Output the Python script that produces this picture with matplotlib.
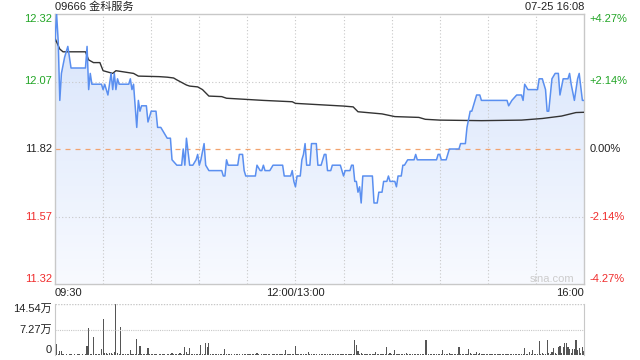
import numpy as np
import matplotlib.pyplot as plt
from matplotlib.colors import LinearSegmentedColormap
from matplotlib.patches import Polygon

plt.rcParams['font.family'] = ['Liberation Sans', 'Noto Sans CJK SC', 'DejaVu Sans']

title = '09666 金科服务'
stamp = '07-25 16:08'
prev_close = 11.82
price_ticks = [12.32, 12.07, 11.82, 11.57, 11.32]
pct_labels = ['+4.27%', '+2.14%', '0.00%', '-2.14%', '-4.27%']
time_ticks = [0, 150, 330]
time_labels = ['09:30', '12:00/13:00', '16:00']
vol_ticks = [0, 72700, 145400]
vol_labels = ['0', '7.27万', '14.54万']

# minutes after 09:30 (lunch break removed) and last price
price_min = [0, 1, 2, 3, 4, 6, 8, 10, 19, 20, 21, 22, 23, 29, 30, 31, 33, 35, 36, 37,
             38, 39, 40, 46, 47, 48, 49, 51, 52, 53, 54, 57, 58, 60, 63, 64, 66, 68, 70, 72,
             73, 76, 79, 80, 81, 82, 84, 86, 88, 89, 90, 91, 93, 94, 96, 104, 105, 106, 107, 108,
             114, 115, 117, 118, 119, 125, 126, 128, 129, 130, 131, 134, 136, 142, 143, 147, 148, 149, 150, 151,
             153, 154, 155, 156, 157, 159, 160, 163, 164, 166, 168, 169, 170, 172, 173, 178, 180, 181, 184, 185,
             186, 187, 188, 189, 190, 191, 192, 198, 199, 201, 202, 204, 205, 207, 208, 209, 212, 213, 214, 216,
             217, 218, 220, 224, 225, 226, 238, 239, 240, 241, 244, 246, 252, 253, 256, 257, 259, 260, 263, 265,
             266, 282, 283, 285, 288, 291, 292, 293, 295, 301, 302, 304, 306, 307, 308, 309, 310, 312, 314, 315,
             317, 320, 321, 322, 324, 326, 327, 329, 330]
price = [12.22, 12.32, 12.22, 12.00, 12.10, 12.16, 12.20, 12.12, 12.12, 12.20, 12.04, 12.10, 12.06, 12.06, 12.04, 12.06, 12.02, 12.10, 12.04, 12.10,
         12.04, 12.08, 12.06, 12.06, 12.08, 12.04, 12.06, 11.90, 12.00, 11.96, 11.98, 11.98, 11.92, 11.96, 11.96, 11.90, 11.90, 11.88, 11.86, 11.86,
         11.78, 11.76, 11.76, 11.82, 11.76, 11.86, 11.76, 11.76, 11.78, 11.80, 11.76, 11.78, 11.84, 11.76, 11.74, 11.74, 11.72, 11.72, 11.78, 11.76,
         11.76, 11.80, 11.80, 11.74, 11.72, 11.72, 11.76, 11.74, 11.74, 11.76, 11.74, 11.74, 11.76, 11.76, 11.72, 11.72, 11.74, 11.70, 11.68, 11.72,
         11.72, 11.78, 11.80, 11.84, 11.76, 11.76, 11.84, 11.84, 11.76, 11.76, 11.80, 11.80, 11.74, 11.74, 11.76, 11.76, 11.72, 11.74, 11.74, 11.76,
         11.76, 11.70, 11.70, 11.66, 11.68, 11.62, 11.72, 11.72, 11.62, 11.62, 11.66, 11.66, 11.70, 11.70, 11.72, 11.70, 11.70, 11.68, 11.72, 11.72,
         11.76, 11.76, 11.78, 11.78, 11.80, 11.78, 11.78, 11.80, 11.80, 11.78, 11.78, 11.82, 11.82, 11.84, 11.84, 11.90, 11.96, 11.96, 12.02, 12.02,
         12.00, 12.00, 11.98, 12.00, 12.02, 12.02, 12.00, 12.06, 12.04, 12.04, 12.08, 12.08, 12.04, 11.96, 11.96, 12.02, 12.08, 12.10, 12.10, 12.02,
         12.08, 12.08, 12.10, 12.06, 12.00, 12.08, 12.10, 12.00, 12.00]

# average price line
avg_min = [0, 3, 5, 19, 21, 24, 28, 30, 36, 38, 49, 52, 65, 70, 74, 76, 82, 84, 89, 92,
           96, 104, 107, 130, 148, 150, 180, 186, 189, 204, 212, 227, 231, 240, 266, 291, 304, 316, 325, 330]
avg_price = [12.23, 12.19, 12.18, 12.18, 12.15, 12.14, 12.14, 12.11, 12.10, 12.11, 12.10, 12.09, 12.088, 12.086, 12.083, 12.076, 12.057, 12.053, 12.05, 12.04,
             12.016, 12.014, 12.008, 12.00, 11.995, 11.989, 11.979, 11.976, 11.958, 11.95, 11.94, 11.937, 11.93, 11.927, 11.925, 11.927, 11.933, 11.942, 11.955, 11.956]

# volume per minute, thousand shares
volume = [
    14, 32, 3, 12, 12, 2, 1, 2, 1, 2, 2, 1, 2, 1, 2, 2, 1, 2, 1, 2, 26, 76, 3, 2, 51, 2, 3, 2, 3, 18,
    103, 6, 6, 3, 5, 5, 2, 8, 145, 5, 3, 80, 3, 2, 2, 2, 3, 15, 2, 2, 3, 47, 3, 26, 2, 2, 3, 2, 21, 2,
    2, 3, 2, 2, 1, 2, 3, 2, 2, 1, 2, 2, 3, 5, 2, 2, 3, 2, 5, 2, 3, 24, 8, 2, 21, 3, 2, 2, 4, 2,
    3, 29, 3, 2, 34, 24, 34, 3, 2, 2, 3, 2, 2, 3, 2, 3, 18, 4, 2, 2, 2, 1, 2, 2, 3, 2, 1, 2, 2, 2,
    2, 2, 3, 2, 2, 2, 5, 2, 1, 2, 2, 3, 2, 2, 2, 1, 2, 3, 2, 2, 2, 2, 3, 2, 15, 2, 2, 3, 2, 2,
    26, 2, 3, 2, 2, 2, 2, 2, 8, 2, 2, 3, 2, 2, 1, 2, 2, 3, 2, 2, 2, 2, 3, 2, 2, 2, 2, 3, 2, 2,
    2, 2, 3, 2, 2, 2, 3, 43, 29, 12, 3, 6, 2, 3, 2, 2, 2, 3, 2, 2, 9, 2, 3, 2, 2, 3, 2, 23, 3, 6,
    2, 3, 14, 3, 2, 2, 3, 2, 2, 5, 2, 2, 3, 2, 2, 2, 3, 2, 2, 2, 3, 43, 43, 3, 2, 2, 3, 2, 2, 3,
    2, 3, 14, 3, 2, 2, 6, 2, 3, 2, 2, 3, 23, 3, 2, 2, 3, 2, 17, 6, 2, 3, 2, 9, 2, 6, 2, 3, 2, 2,
    2, 3, 2, 2, 3, 2, 2, 3, 2, 2, 3, 2, 2, 3, 2, 2, 3, 2, 2, 3, 2, 2, 3, 20, 3, 2, 9, 3, 14, 3,
    3, 2, 40, 3, 6, 3, 2, 43, 6, 3, 9, 20, 6, 3, 23, 26, 5, 23, 34, 34, 23, 17, 5, 17, 17, 43, 14, 20, 6, 23,
    10]

green = '#22a526'
red = '#f02c2c'
dark = '#222222'
grid_c = '#c8c8c8'
fs = 8

fig = plt.figure(figsize=(6.4, 3.6), dpi=100)
ax = fig.add_axes([55 / 640, 1 - 284 / 360, 529 / 640, 270 / 360])
ax.set_xlim(0, 330)
ax.set_ylim(price_ticks[-1], price_ticks[0])

# gradient area under the price line
verts = list(zip(price_min, price)) + [(price_min[-1], price_ticks[-1]), (price_min[0], price_ticks[-1])]
patch = Polygon(verts, closed=True, facecolor='none', edgecolor='none')
ax.add_patch(patch)
cmap = LinearSegmentedColormap.from_list('fill', ['#f8faff', '#d7e4fb'])
grad = np.linspace(1, 0, 256).reshape(-1, 1)
im = ax.imshow(grad, extent=[0, 330, price_ticks[-1], price_ticks[0]], aspect='auto',
               cmap=cmap, vmin=0, vmax=1, origin='upper', zorder=1)
im.set_clip_path(patch)

# grid
for m in range(30, 330, 30):
    ax.axvline(m, color=grid_c, lw=0.8, ls=(0, (1, 2)), zorder=2)
for p in [price_ticks[1], price_ticks[3]]:
    ax.axhline(p, color=grid_c, lw=0.8, ls=(0, (1, 2)), zorder=2)
ax.axhline(prev_close, color='#f2a36e', lw=0.9, ls=(0, (4, 4)), zorder=2)

ax.plot(avg_min, avg_price, color='#333333', lw=1.0, zorder=3)
ax.plot(price_min, price, color='#5a8ff0', lw=1.1, zorder=4)

for s in ax.spines.values():
    s.set_color(grid_c)
    s.set_linewidth(1)
ax.set_xticks([])
ax.set_yticks([])

label_colors = [green, green, dark, red, red]
label_va = ['top', 'center', 'center', 'center', 'bottom']
ytr = ax.get_yaxis_transform()
for p, pl, c, va in zip(price_ticks, pct_labels, label_colors, label_va):
    ax.text(-0.006, p, f'{p:.2f}', transform=ytr, ha='right', va=va, color=c, fontsize=fs)
    ax.text(1.01, p, pl, transform=ytr, ha='left', va=va, color=c, fontsize=fs)

xtr = ax.get_xaxis_transform()
for m, tl, ha in zip(time_ticks, time_labels, ['left', 'center', 'right']):
    ax.text(m, -0.034, tl, transform=xtr, ha=ha, va='center', color=dark, fontsize=fs)

ax.text(0, 1.026, title, transform=ax.transAxes, ha='left', va='center', color=dark, fontsize=fs)
ax.text(1, 1.026, stamp, transform=ax.transAxes, ha='right', va='center', color=dark, fontsize=fs)
ax.text(0.981, 0.019, 'sina.com', transform=ax.transAxes, ha='right', va='center',
        color='#cccccc', fontsize=fs)

# volume panel
vax = fig.add_axes([55 / 640, 1 - 355 / 360, 529 / 640, 51 / 360])
vax.set_xlim(0, 330)
vax.set_ylim(0, vol_ticks[-1])
vax.bar(np.arange(len(volume)), np.array(volume) * 1000, width=0.7, color='#555555', lw=0)
vax.axhline(vol_ticks[1], color=grid_c, lw=0.8, ls=(0, (1, 1)))
vax.axhline(vol_ticks[2], color=grid_c, lw=1.0, ls=(0, (1, 1)))
vax.spines['top'].set_visible(False)
vax.spines['bottom'].set_visible(False)
vax.spines['left'].set_color(grid_c)
vax.spines['right'].set_color(grid_c)
vax.set_xticks([])
vax.set_yticks([])
vytr = vax.get_yaxis_transform()
for v, vl, va in zip(vol_ticks, vol_labels, ['bottom', 'center', 'top']):
    vax.text(-0.006, v, vl, transform=vytr, ha='right', va=va, color=dark, fontsize=fs)

fig.savefig('out.png', dpi=100)
